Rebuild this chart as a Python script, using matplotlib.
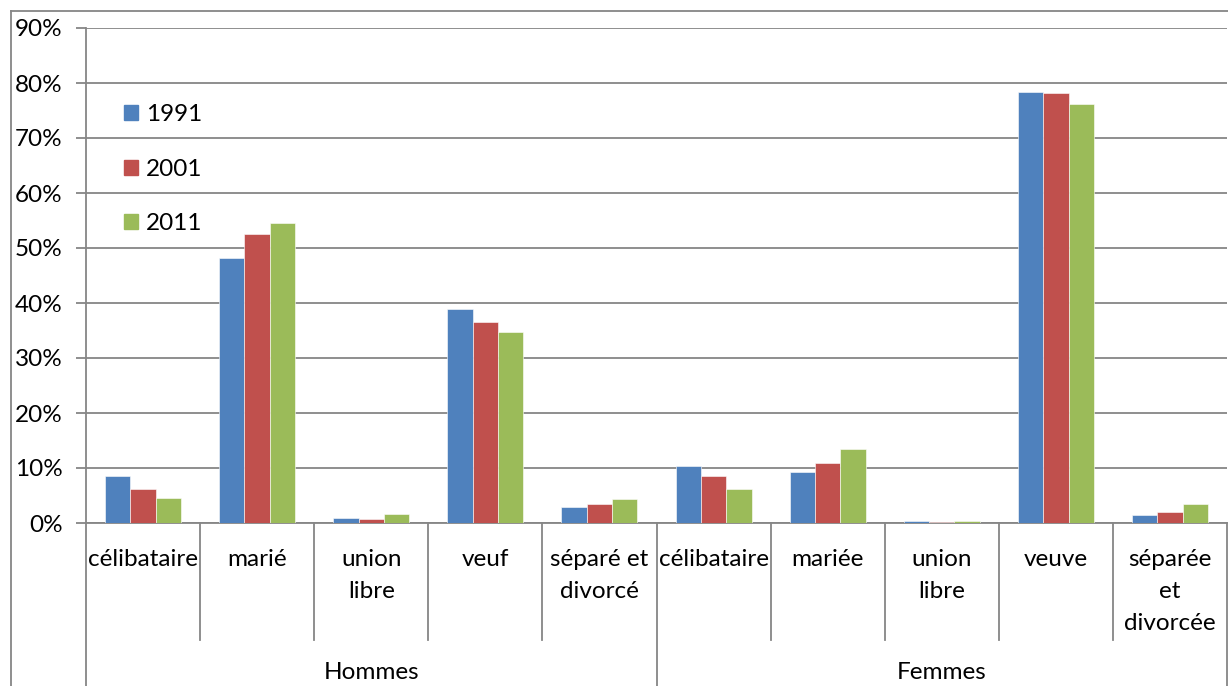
import numpy as np
import matplotlib.pyplot as plt
from matplotlib.lines import Line2D
from matplotlib.patches import Patch

plt.rcParams['font.family'] = ['Lato', 'DejaVu Sans']

categories = ["célibataire", "marié", "union\nlibre", "veuf", "séparé et\ndivorcé",
              "célibataire", "mariée", "union\nlibre", "veuve", "séparée\net\ndivorcée"]
groups = ["Hommes", "Femmes"]
years = ["1991", "2001", "2011"]
v1991 = [8.6, 48.2, 0.9, 39.0, 3.0, 10.3, 9.3, 0.3, 78.4, 1.4]
v2001 = [6.2, 52.6, 0.8, 36.5, 3.5, 8.6, 10.9, 0.15, 78.1, 2.0]
v2011 = [4.5, 54.6, 1.6, 34.7, 4.3, 6.1, 13.5, 0.3, 76.2, 3.5]
colors = ['#4F81BD', '#C0504D', '#9BBB59']

W, H = 1228, 686
FS = 17.5
fig = plt.figure(figsize=(W / 100, H / 100), dpi=100)
ax = fig.add_axes([86 / W, 1 - 523 / H, 1141 / W, 495 / H])

x = np.arange(len(categories))
bw = 0.222
for k, vals in enumerate([v1991, v2001, v2011]):
    ax.bar(x + (k - 1) * bw, vals, bw, color=colors[k], label=years[k],
           edgecolor='white', linewidth=0.4, zorder=3)

ax.set_xlim(-0.5, len(categories) - 0.5)
ax.set_ylim(0, 90)
ax.set_yticks(np.arange(0, 91, 10))
ax.set_yticklabels([f"{v}%" for v in range(0, 91, 10)], fontsize=FS)
ax.yaxis.grid(True, color='#868686', linewidth=1.3, zorder=0)
ax.set_xticks([])
for s in ['top', 'right']:
    ax.spines[s].set_visible(False)
for s in ['left', 'bottom']:
    ax.spines[s].set_color('#868686')
    ax.spines[s].set_linewidth(1.3)
ax.tick_params(axis='y', length=7, width=1.3, color='#868686', pad=10)

# category labels and separators
xt = ax.get_xaxis_transform()
for i, lab in enumerate(categories):
    ax.text(i, -0.053, lab, transform=xt, ha='center', va='top', fontsize=FS,
            linespacing=1.63)
for b in np.arange(-0.5, len(categories), 1.0):
    bottom = -0.33 if b in (-0.5, 4.5, 9.5) else -0.237
    ax.plot([b, b], [0, bottom], transform=xt, color='#868686', lw=1.3,
            clip_on=False)
for g, lab in enumerate(groups):
    ax.text(2 + g * 5, -0.303, lab, transform=xt, ha='center', va='center',
            fontsize=FS)

# outer chart border
fig.add_artist(Line2D([11 / W, 11 / W], [0, 1 - 11 / H], color='#868686', lw=1.3))
fig.add_artist(Line2D([11 / W, 1], [1 - 11 / H, 1 - 11 / H], color='#868686', lw=1.3))

handles = [Patch(color=c) for c in colors]
ax.legend(handles, years, loc='upper left', bbox_to_anchor=(0.033, 0.846),
          frameon=False, fontsize=FS, labelspacing=1.38, handlelength=0.58,
          handleheight=0.58, handletextpad=0.35, borderaxespad=0, borderpad=0)

fig.savefig('out.png', dpi=100)
